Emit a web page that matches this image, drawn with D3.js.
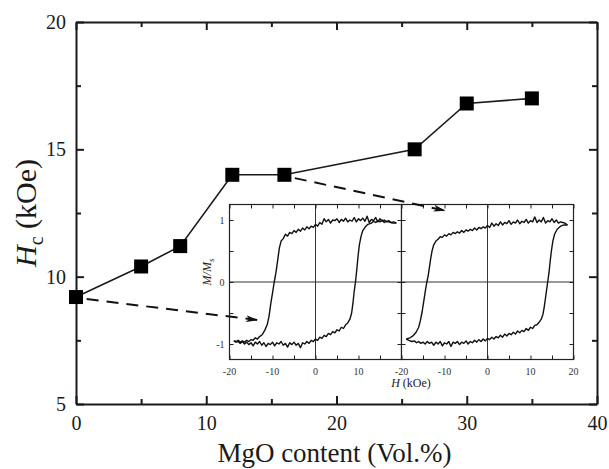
<!DOCTYPE html>
<html><head><meta charset="utf-8">
<script src="https://cdn.jsdelivr.net/npm/d3@7"></script>
<style>body{margin:0;background:#fff} svg{display:block} text{font-family:"Liberation Serif","Times New Roman",Times,"DejaVu Serif",serif;}</style>
</head><body>
<svg id="c" width="609" height="469"></svg>
<script>
// ---- main data ----
const mgo = [0, 5, 8, 12, 16, 26, 30, 35];
const hc  = [9.2, 10.4, 11.2, 14.0, 14.0, 15.0, 16.8, 17.0];
const xMajor = [0, 10, 20, 30, 40];
const xMinor = [5, 15, 25, 35];
const yMajor = [5, 10, 15, 20];
const yMinor = [7.5, 12.5, 17.5];
// arrows (main data coordinates)
const arrowFrom = [[0.82, 9.12], [16.8, 13.87]];
const arrowTo   = [[13.9, 8.30], [28.3, 12.6]];
// ---- inset data ----
const hTicks = [-20, -15, -10, -5, 0, 5, 10, 15, 20];
const hLabelsA = [-20, -10, 0, 10];
const hLabelsB = [-20, -10, 0, 10, 20];
const mTicks = [-1, -0.5, 0, 0.5, 1];
const mLabels = [1, 0, -1];
// loop for Hc ~ 9.2 kOe (0 vol.%)
const loopA_desc = [[18.8,0.95],[18.2,0.97],[17.6,0.96],[17,0.99],[16.5,0.97],[16,1.0],[15.5,0.98],[15,1.02],[14.5,0.97],[14,1.04],[13.5,0.99],[13,1.01],[12.5,0.96],[12,1.06],[11.5,0.98],[11,1.03],[10.5,0.99],[10,1.02],[9.5,0.97],[9,1.04],[8.5,0.98],[8,1.0],[7.5,0.97],[7,1.03],[6.5,0.98],[6,1.01],[5.5,0.96],[5,1.02],[4.5,0.99],[4,1.0],[3.5,0.95],[3,1.01],[2.5,0.97],[2,1.02],[1.5,0.93],[1,0.96],[0.5,0.9],[0,0.93],[-0.5,0.88],[-1,0.9],[-1.5,0.86],[-2,0.89],[-2.5,0.84],[-3,0.87],[-3.5,0.82],[-4,0.85],[-4.5,0.8],[-5,0.83],[-5.5,0.78],[-6,0.8],[-6.5,0.74],[-7,0.77],[-7.5,0.7],[-8,0.66],[-8.4,0.55],[-8.8,0.35],[-9.2,0.15],[-9.6,0.0],[-10,-0.18],[-10.4,-0.35],[-10.8,-0.55],[-11.2,-0.68],[-11.8,-0.78],[-12.4,-0.85],[-13,-0.88],[-13.5,-0.92],[-14,-0.9],[-14.5,-0.94],[-15,-0.93],[-15.5,-0.96],[-16,-0.94],[-16.5,-0.97],[-17,-0.95],[-17.5,-0.97],[-18,-0.94],[-18.5,-0.96],[-19,-0.95]];
const loopA_asc = [[-19,-0.95],[-18.5,-0.97],[-18,-0.96],[-17.5,-0.99],[-17,-0.96],[-16.5,-1.0],[-16,-0.97],[-15.5,-1.01],[-15,-0.98],[-14.5,-1.03],[-14,-0.97],[-13.5,-1.0],[-13,-0.96],[-12.5,-1.02],[-12,-0.98],[-11.5,-1.04],[-11,-0.99],[-10.5,-1.01],[-10,-0.97],[-9.5,-1.03],[-9,-0.98],[-8.5,-1.0],[-8,-0.96],[-7.5,-1.02],[-7,-0.99],[-6.5,-1.05],[-6,-0.98],[-5.5,-1.01],[-5,-0.97],[-4.5,-1.02],[-4,-0.99],[-3.5,-1.06],[-3,-0.98],[-2.5,-1.0],[-2,-0.96],[-1.5,-0.99],[-1,-0.94],[-0.5,-0.96],[0,-0.92],[0.5,-0.94],[1,-0.89],[1.5,-0.91],[2,-0.86],[2.5,-0.88],[3,-0.83],[3.5,-0.85],[4,-0.8],[4.5,-0.82],[5,-0.77],[5.5,-0.79],[6,-0.73],[6.5,-0.75],[7,-0.69],[7.5,-0.66],[8,-0.6],[8.4,-0.5],[8.7,-0.35],[9,-0.15],[9.3,0.0],[9.6,0.2],[9.9,0.42],[10.2,0.6],[10.6,0.74],[11,0.83],[11.6,0.89],[12.2,0.93],[13,0.95],[13.5,0.98],[14,0.96],[14.5,0.99],[15,0.97],[15.5,1.0],[16,0.96],[16.5,0.98],[17,0.97],[17.5,0.96],[18,0.95],[18.8,0.95]];
// loop for Hc ~ 14 kOe (16 vol.%)
const loopB_desc = [[18.6,0.92],[18,0.95],[17.5,0.96],[17,0.97],[16.5,0.95],[16,1.0],[15.5,0.96],[15,1.02],[14.5,0.97],[14,0.99],[13.5,0.95],[13,1.04],[12.5,0.97],[12,1.0],[11.5,0.96],[11,1.05],[10.5,0.97],[10,0.99],[9.5,0.95],[9,1.01],[8.5,0.96],[8,0.98],[7.5,0.94],[7,1.0],[6.5,0.95],[6,0.97],[5.5,0.93],[5,0.99],[4.5,0.94],[4,0.96],[3.5,0.92],[3,0.97],[2.5,0.91],[2,0.94],[1.5,0.9],[1,0.95],[0.5,0.88],[0,0.91],[-0.5,0.87],[-1,0.89],[-1.5,0.86],[-2,0.88],[-2.5,0.84],[-3,0.87],[-3.5,0.83],[-4,0.85],[-4.5,0.82],[-5,0.84],[-5.5,0.8],[-6,0.83],[-6.5,0.79],[-7,0.81],[-7.5,0.78],[-8,0.8],[-8.5,0.76],[-9,0.78],[-9.5,0.74],[-10,0.76],[-10.5,0.72],[-11,0.73],[-11.5,0.69],[-12,0.66],[-12.5,0.6],[-12.9,0.5],[-13.2,0.38],[-13.5,0.24],[-13.8,0.1],[-14.1,0.0],[-14.4,-0.12],[-14.8,-0.3],[-15.2,-0.48],[-15.6,-0.62],[-16,-0.73],[-16.6,-0.81],[-17.2,-0.86],[-18,-0.9],[-18.9,-0.92]];
const loopB_asc = [[-18.9,-0.92],[-18.3,-0.94],[-17.6,-0.96],[-17,-0.95],[-16.5,-0.98],[-16,-0.96],[-15.5,-0.99],[-15,-0.97],[-14.5,-1.0],[-14,-0.96],[-13.5,-0.99],[-13,-0.97],[-12.5,-1.02],[-12,-0.97],[-11.5,-1.0],[-11,-0.96],[-10.5,-1.03],[-10,-0.98],[-9.5,-1.0],[-9,-0.96],[-8.5,-1.04],[-8,-0.97],[-7.5,-0.99],[-7,-0.96],[-6.5,-1.01],[-6,-0.97],[-5.5,-0.99],[-5,-0.95],[-4.5,-1.0],[-4,-0.96],[-3.5,-0.98],[-3,-0.94],[-2.5,-0.97],[-2,-0.93],[-1.5,-0.96],[-1,-0.92],[-0.5,-0.95],[0,-0.91],[0.5,-0.93],[1,-0.89],[1.5,-0.92],[2,-0.88],[2.5,-0.9],[3,-0.86],[3.5,-0.89],[4,-0.84],[4.5,-0.87],[5,-0.83],[5.5,-0.85],[6,-0.81],[6.5,-0.84],[7,-0.79],[7.5,-0.82],[8,-0.78],[8.5,-0.8],[9,-0.75],[9.5,-0.78],[10,-0.73],[10.5,-0.75],[11,-0.7],[11.5,-0.69],[12,-0.65],[12.5,-0.6],[12.9,-0.52],[13.2,-0.4],[13.5,-0.25],[13.8,-0.1],[14.0,0.0],[14.3,0.15],[14.6,0.35],[14.9,0.52],[15.2,0.66],[15.6,0.77],[16.2,0.85],[17,0.9],[17.8,0.92],[18.6,0.92]];

// ---- drawing ----
const svg = d3.select("#c");
const serif = '"Liberation Serif","Times New Roman",Times,"DejaVu Serif",serif';
const ink = "#1a1a1a";
const L = 76, R = 597, T = 22, B = 404;
const x = d3.scaleLinear([0, 40], [L, R]);
const y = d3.scaleLinear([5, 20], [B, T]);

function styleAxis(g, w) {
  g.attr("font-family", null);
  g.selectAll("path").attr("stroke", ink).attr("stroke-width", w);
  g.selectAll("line").attr("stroke", ink).attr("stroke-width", w);
  g.selectAll("text").attr("fill", ink).style("font-family", serif);
}
// main axes
const gb = svg.append("g").attr("transform", `translate(0,${B})`);
gb.call(d3.axisBottom(x).tickValues(xMajor).tickSize(-8).tickSizeOuter(0).tickPadding(12).tickFormat(d3.format("d")));
gb.call(g => g.selectAll("text").attr("font-size", 20));
styleAxis(gb, 2);
const gb2 = svg.append("g").attr("transform", `translate(0,${B})`);
gb2.call(d3.axisBottom(x).tickValues(xMinor).tickSize(-5).tickFormat("")); gb2.select(".domain").remove(); styleAxis(gb2, 2);
const gt = svg.append("g").attr("transform", `translate(0,${T})`);
gt.call(d3.axisTop(x).tickValues(xMajor).tickSize(-8).tickSizeOuter(0).tickFormat("")); styleAxis(gt, 2);
const gt2 = svg.append("g").attr("transform", `translate(0,${T})`);
gt2.call(d3.axisTop(x).tickValues(xMinor).tickSize(-5).tickFormat("")); gt2.select(".domain").remove(); styleAxis(gt2, 2);
const gl = svg.append("g").attr("transform", `translate(${L},0)`);
gl.call(d3.axisLeft(y).tickValues(yMajor).tickSize(-8).tickSizeOuter(0).tickPadding(10).tickFormat(d3.format("d")));
gl.call(g => g.selectAll("text").attr("font-size", 20));
styleAxis(gl, 2);
const gl2 = svg.append("g").attr("transform", `translate(${L},0)`);
gl2.call(d3.axisLeft(y).tickValues(yMinor).tickSize(-5).tickFormat("")); gl2.select(".domain").remove(); styleAxis(gl2, 2);
const gr = svg.append("g").attr("transform", `translate(${R},0)`);
gr.call(d3.axisRight(y).tickValues(yMajor).tickSize(-8).tickSizeOuter(0).tickFormat("")); styleAxis(gr, 2);
const gr2 = svg.append("g").attr("transform", `translate(${R},0)`);
gr2.call(d3.axisRight(y).tickValues(yMinor).tickSize(-5).tickFormat("")); gr2.select(".domain").remove(); styleAxis(gr2, 2);

// axis titles
svg.append("text").attr("x", (L + R) / 2 - 2).attr("y", 462).attr("text-anchor", "middle")
  .style("font-family", serif).attr("font-size", 27).attr("fill", ink).text("MgO content (Vol.%)");
const yt = svg.append("text").attr("transform", `translate(36,${(T + B) / 2}) rotate(-90)`)
  .attr("text-anchor", "middle").style("font-family", serif).attr("font-size", 30).attr("fill", ink);
yt.append("tspan").attr("font-style", "italic").text("H");
yt.append("tspan").attr("font-size", 20).attr("dy", 7).text("c");
yt.append("tspan").attr("dy", -7).text(" (kOe)");

// main series
const pts = mgo.map((v, i) => [v, hc[i]]);
svg.append("path").datum(pts).attr("fill", "none").attr("stroke", ink).attr("stroke-width", 1.6)
  .attr("d", d3.line().x(d => x(d[0])).y(d => y(d[1])));
svg.selectAll("rect.m").data(pts).join("rect").attr("class", "m")
  .attr("x", d => x(d[0]) - 7).attr("y", d => y(d[1]) - 7).attr("width", 14).attr("height", 14).attr("fill", "#000");

// inset
const IT = 204.5, IB = 359.5;
const my = d3.scaleLinear([-1.25, 1.25], [IB, IT]);
const panels = [
  {sx: d3.scaleLinear([-20, 20], [229.5, 401.5]), loops: [loopA_desc, loopA_asc], labels: hLabelsA, leftLabels: true},
  {sx: d3.scaleLinear([-20, 20], [401.5, 573.5]), loops: [loopB_desc, loopB_asc], labels: hLabelsB, leftLabels: false}
];
panels.forEach(p => {
  const sx = p.sx, [x0, x1] = sx.range();
  const g = svg.append("g");
  g.append("rect").attr("x", x0).attr("y", IT).attr("width", x1 - x0).attr("height", IB - IT)
    .attr("fill", "#fff").attr("stroke", "#222").attr("stroke-width", 1.2);
  g.append("line").attr("x1", sx(0)).attr("x2", sx(0)).attr("y1", IT).attr("y2", IB).attr("stroke", "#333").attr("stroke-width", 1);
  g.append("line").attr("x1", x0).attr("x2", x1).attr("y1", my(0)).attr("y2", my(0)).attr("stroke", "#333").attr("stroke-width", 1);
  const ab = g.append("g").attr("transform", `translate(0,${IB})`)
    .call(d3.axisBottom(sx).tickValues(hTicks).tickSize(-4).tickSizeOuter(0).tickFormat(""));
  const at = g.append("g").attr("transform", `translate(0,${IT})`)
    .call(d3.axisTop(sx).tickValues(hTicks).tickSize(-4).tickSizeOuter(0).tickFormat(""));
  const al = g.append("g").attr("transform", `translate(${x0},0)`)
    .call(d3.axisLeft(my).tickValues(mTicks).tickSize(-4).tickSizeOuter(0).tickFormat(""));
  const ar = g.append("g").attr("transform", `translate(${x1},0)`)
    .call(d3.axisRight(my).tickValues(mTicks).tickSize(-4).tickSizeOuter(0).tickFormat(""));
  [ab, at, al, ar].forEach(a => { a.select(".domain").remove(); a.selectAll("line").attr("stroke", "#222").attr("stroke-width", 1); });
  g.selectAll("text.hl").data(p.labels).join("text").attr("class", "hl")
    .attr("x", d => sx(d)).attr("y", IB + 15).attr("text-anchor", "middle")
    .style("font-family", serif).attr("font-size", 10).attr("fill", "#333").text(d => d);
  if (p.leftLabels) {
    g.selectAll("text.ml").data(mLabels).join("text").attr("class", "ml")
      .attr("x", x0 - 5).attr("y", d => my(d) + 3.5).attr("text-anchor", "end")
      .style("font-family", serif).attr("font-size", 10).attr("fill", "#333").text(d => d);
  }
  const line = d3.line().x(d => sx(d[0])).y(d => my(d[1]));
  p.loops.forEach(lp => g.append("path").datum(lp).attr("fill", "none").attr("stroke", "#111")
    .attr("stroke-width", 1.4).attr("stroke-linejoin", "round").attr("d", line));
});
// inset titles
svg.append("text").attr("x", 411).attr("y", 387).attr("text-anchor", "middle")
  .style("font-family", serif).attr("font-size", 12).attr("fill", "#222")
  .call(t => { t.append("tspan").attr("font-style", "italic").text("H"); t.append("tspan").text(" (kOe)"); });
const mt = svg.append("text").attr("transform", `translate(211,272) rotate(-90)`).attr("text-anchor", "middle")
  .style("font-family", serif).attr("font-size", 12).attr("font-style", "italic").attr("fill", "#222");
mt.append("tspan").text("M/M");
mt.append("tspan").attr("font-size", 9).attr("dy", 3).text("s");

// arrows
svg.append("defs").append("marker").attr("id", "ah").attr("viewBox", "0 -4 12 8")
  .attr("refX", 11).attr("refY", 0).attr("markerWidth", 12).attr("markerHeight", 8)
  .attr("markerUnits", "userSpaceOnUse").attr("orient", "auto")
  .append("path").attr("d", "M0,-3.5L12,0L0,3.5L3,0Z").attr("fill", "#111");
svg.selectAll("line.arr").data(arrowFrom.map((f, i) => [f, arrowTo[i]])).join("line").attr("class", "arr")
  .attr("x1", d => x(d[0][0])).attr("y1", d => y(d[0][1]))
  .attr("x2", d => x(d[1][0])).attr("y2", d => y(d[1][1]))
  .attr("stroke", "#111").attr("stroke-width", 2).attr("stroke-dasharray", "12,8")
  .attr("marker-end", "url(#ah)");
</script>
</body></html>
